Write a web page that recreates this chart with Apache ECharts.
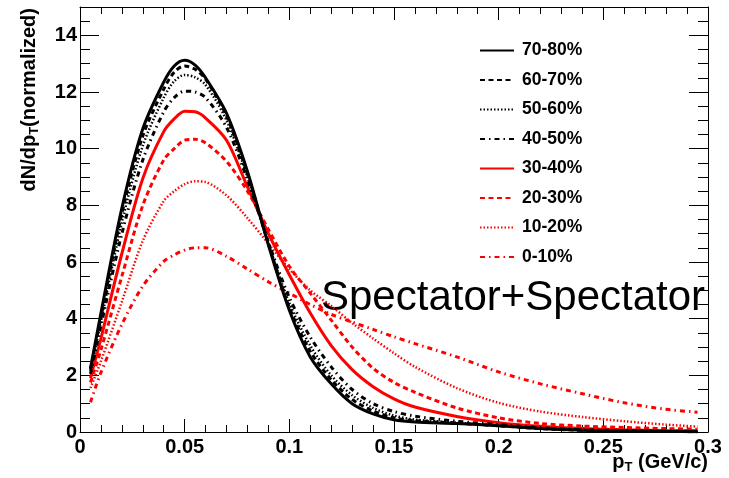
<!DOCTYPE html>
<html><head><meta charset="utf-8">
<script src="https://cdn.jsdelivr.net/npm/echarts@6/dist/echarts.min.js"></script>
<style>html,body{margin:0;padding:0;background:#fff}#c{width:729px;height:478px}</style>
</head><body><div id="c"></div>
<script>
// ---- data ----
const pT     = [0.005, 0.01, 0.02, 0.03, 0.04, 0.045, 0.05, 0.055, 0.06, 0.07, 0.08, 0.09, 0.10, 0.11, 0.12, 0.13, 0.14, 0.15, 0.16, 0.18, 0.20, 0.22, 0.24, 0.26, 0.28, 0.295];
const c70_80 = [2.25, 4.2, 7.9, 10.7, 12.35, 12.92, 13.12, 12.95, 12.5, 11.25, 9.2, 6.6, 4.3, 2.65, 1.7, 1.0, 0.64, 0.43, 0.35, 0.3, 0.22, 0.12, 0.06, 0.03, 0.02, 0.01];
const c60_70 = [2.2, 4.05, 7.7, 10.45, 12.1, 12.7, 12.92, 12.8, 12.45, 11.15, 9.1, 6.65, 4.4, 2.85, 1.85, 1.15, 0.74, 0.5, 0.4, 0.31, 0.22, 0.12, 0.06, 0.04, 0.02, 0.01];
const c50_60 = [2.15, 3.9, 7.4, 10.1, 11.8, 12.38, 12.6, 12.52, 12.25, 11.0, 9.0, 6.65, 4.55, 3.05, 2.0, 1.3, 0.85, 0.58, 0.44, 0.33, 0.23, 0.13, 0.07, 0.04, 0.02, 0.01];
const c40_50 = [2.05, 3.75, 7.0, 9.6, 11.3, 11.8, 12.03, 12.0, 11.8, 10.75, 8.9, 6.7, 4.75, 3.35, 2.3, 1.5, 1.0, 0.72, 0.56, 0.38, 0.26, 0.15, 0.08, 0.05, 0.03, 0.02];
const c30_40 = [1.9, 3.3, 6.3, 8.95, 10.6, 11.05, 11.32, 11.3, 11.08, 10.3, 8.65, 7.0, 5.55, 4.2, 3.05, 2.2, 1.6, 1.17, 0.88, 0.55, 0.33, 0.2, 0.12, 0.08, 0.05, 0.04];
const c20_30 = [1.75, 2.9, 5.5, 8.0, 9.6, 10.0, 10.3, 10.33, 10.2, 9.55, 8.5, 7.15, 5.85, 4.9, 3.95, 3.0, 2.25, 1.75, 1.4, 0.85, 0.5, 0.3, 0.21, 0.16, 0.12, 0.1];
const c10_20 = [1.55, 2.5, 4.6, 6.75, 8.15, 8.5, 8.75, 8.85, 8.82, 8.35, 7.55, 6.65, 5.75, 5.0, 4.45, 3.85, 3.3, 2.78, 2.3, 1.55, 1.03, 0.72, 0.53, 0.38, 0.26, 0.19];
const c0_10  = [1.05, 2.1, 3.8, 5.15, 6.02, 6.25, 6.42, 6.5, 6.5, 6.2, 5.75, 5.3, 4.9, 4.5, 4.15, 3.88, 3.62, 3.36, 3.12, 2.65, 2.12, 1.7, 1.35, 1.03, 0.8, 0.7];
const seriesNames = ['70-80%', '60-70%', '50-60%', '40-50%', '30-40%', '20-30%', '10-20%', '0-10%'];
const seriesValues = [c70_80, c60_70, c50_60, c40_50, c30_40, c20_30, c10_20, c0_10];

// ---- styles ----
const FONT = "'Liberation Sans', Arial, Helvetica, sans-serif";
const SOLID = 'solid', DASH = [5, 3.5], DOT = [1.5, 2], DASHDOT = [5, 4, 1.5, 4];
const lineStyles = [
  {color: '#000000', type: SOLID, width: 3},
  {color: '#000000', type: DASH, width: 3},
  {color: '#000000', type: DOT, width: 2.5},
  {color: '#000000', type: DASHDOT, width: 3},
  {color: '#ff0000', type: SOLID, width: 3},
  {color: '#ff0000', type: DASH, width: 3},
  {color: '#ff0000', type: DOT, width: 2.5},
  {color: '#ff0000', type: DASHDOT, width: 3}
];

const chart = echarts.init(document.getElementById('c'), null, {renderer: 'canvas'});

const labelStyle = {color: '#000', fontFamily: FONT, fontWeight: 'bold', fontSize: 20};
const grid = {left: 80, right: 21, top: 7, bottom: 46, containLabel: false, outerBoundsMode: 'none'};

function xAx(pos, withLabels) {
  return {
    type: 'value', position: pos, min: 0, max: 0.3, interval: 0.05,
    axisLine: {show: true, onZero: false, lineStyle: {color: '#000', width: 1}},
    axisTick: {show: true, inside: true, length: 13, lineStyle: {color: '#000', width: 1}},
    minorTick: {show: true, splitNumber: 5, length: 7, lineStyle: {color: '#000', width: 1}},
    axisLabel: withLabels ? Object.assign({show: true, margin: 5}, labelStyle) : {show: false},
    splitLine: {show: false}, minorSplitLine: {show: false}
  };
}
function yAx(pos, interval, len, withLine, withLabels) {
  return {
    type: 'value', position: pos, min: 0, max: 15, interval: interval,
    axisLine: {show: withLine, onZero: false, lineStyle: {color: '#000', width: 1}},
    axisTick: {show: true, inside: true, length: len, lineStyle: {color: '#000', width: 1}},
    axisLabel: withLabels ? Object.assign({show: true, margin: 3, showMaxLabel: false}, labelStyle) : {show: false},
    splitLine: {show: false}
  };
}

const series = seriesNames.map((name, i) => ({
  name: name,
  type: 'line',
  xAxisIndex: 0, yAxisIndex: 0,
  data: pT.map((x, k) => [x, seriesValues[i][k]]),
  showSymbol: false, symbol: 'none',
  smooth: 0.3,
  lineStyle: lineStyles[i],
  itemStyle: {color: lineStyles[i].color},
  z: 10 - i,
  silent: true
}));

chart.setOption({
  animation: false,
  backgroundColor: '#ffffff',
  grid: grid,
  xAxis: [xAx('bottom', true), xAx('top', false)],
  yAxis: [yAx('left', 2, 19, true, true), yAx('left', 0.5, 10, false, false),
          yAx('right', 2, 19, true, false), yAx('right', 0.5, 10, false, false)],
  legend: {
    orient: 'vertical', left: 479, top: 41.5, padding: 0,
    itemWidth: 34, itemHeight: 21, itemGap: 11.5,
    itemStyle: {opacity: 0},
    textStyle: {color: '#000', fontFamily: FONT, fontWeight: 'bold', fontSize: 17.5, padding: [0, 0, 0, 3]},
    data: seriesNames,
    selectedMode: false
  },
  graphic: [
    {type: 'text', x: 29, y: 8, rotation: Math.PI / 2,
     style: {text: '{a|dN/dp}{s|T}{a|(normalized)}', align: 'right', verticalAlign: 'middle', fill: '#000',
       rich: {a: {fontFamily: FONT, fontWeight: 'bold', fontSize: 20, lineHeight: 24, verticalAlign: 'middle'},
              s: {fontFamily: FONT, fontWeight: 'bold', fontSize: 13, lineHeight: 13, verticalAlign: 'bottom'}}}},
    {type: 'text', x: 708, y: 462,
     style: {text: '{a|p}{s|T}{a| (GeV/c)}', align: 'right', verticalAlign: 'middle', fill: '#000',
       rich: {a: {fontFamily: FONT, fontWeight: 'bold', fontSize: 20, lineHeight: 24, verticalAlign: 'middle'},
              s: {fontFamily: FONT, fontWeight: 'bold', fontSize: 13, lineHeight: 13, verticalAlign: 'bottom'}}}},
    {type: 'text', x: 321, y: 298,
     style: {text: 'Spectator+Spectator', fontFamily: FONT, fontSize: 42, fontWeight: 'normal', fill: '#000',
       align: 'left', verticalAlign: 'middle'}}
  ],
  series: series
});
</script></body></html>
